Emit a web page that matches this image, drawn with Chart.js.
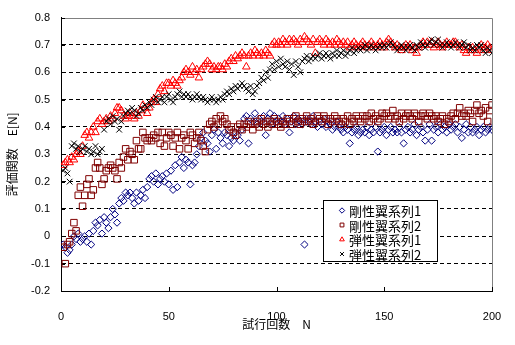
<!DOCTYPE html>
<html lang="ja">
<head>
<meta charset="utf-8">
<title>評価関数の推移</title>
<script src="https://cdn.jsdelivr.net/npm/chart.js@4.4.1/dist/chart.umd.min.js"></script>
<style>
  html, body { margin: 0; padding: 0; background: #fff; }
</style>
</head>
<body>
<canvas id="myChart" width="515" height="345"></canvas>
<script>
// evaluation value E[N] per trial, one list per wing / run
const rigidRun1 = [
  -0.03, -0.04, -0.06, -0.05, -0.03, 0.00, -0.01, 0.01, -0.02, -0.01,
  0.00, -0.02, 0.01, -0.03, 0.02, 0.05, 0.04, 0.06, 0.01, 0.07,
  0.05, 0.03, 0.07, 0.10, 0.08, 0.05, 0.12, 0.14, 0.13, 0.16,
  0.15, 0.16, 0.14, 0.12, 0.16, 0.13, 0.15, 0.17, 0.14, 0.18,
  0.21, 0.22, 0.20, 0.23, 0.19, 0.21, 0.22, 0.20, 0.23, 0.19,
  0.24, 0.17, 0.26, 0.18, 0.27, 0.29, 0.25, 0.28, 0.27, 0.19,
  0.26, 0.27, 0.30, 0.33, 0.36, 0.38, 0.35, 0.34, 0.31, 0.37,
  0.39, 0.32, 0.38, 0.36, 0.34, 0.38, 0.37, 0.33, 0.36, 0.35,
  0.38, 0.37, 0.35, 0.39, 0.43, 0.44, 0.34, 0.43, 0.42, 0.45,
  0.41, 0.43, 0.42, 0.44, 0.37, 0.43, 0.45, 0.41, 0.44, 0.42,
  0.43, 0.42, 0.44, 0.41, 0.43, 0.38, 0.42, 0.44, 0.41, 0.43,
  0.42, 0.41, -0.03, 0.43, 0.42, 0.41, 0.44, 0.42, 0.40, 0.42,
  0.41, 0.43, 0.40, 0.42, 0.41, 0.39, 0.40, 0.42, 0.40, 0.39,
  0.38, 0.40, 0.39, 0.34, 0.38, 0.39, 0.40, 0.37, 0.38, 0.39,
  0.38, 0.40, 0.37, 0.39, 0.38, 0.40, 0.31, 0.38, 0.39, 0.40,
  0.37, 0.39, 0.40, 0.38, 0.39, 0.38, 0.40, 0.38, 0.34, 0.39,
  0.40, 0.38, 0.39, 0.41, 0.37, 0.39, 0.40, 0.38, 0.35, 0.39,
  0.41, 0.35, 0.39, 0.40, 0.38, 0.41, 0.39, 0.40, 0.38, 0.41,
  0.39, 0.40, 0.41, 0.38, 0.40, 0.36, 0.39, 0.41, 0.38, 0.40,
  0.38, 0.39, 0.40, 0.37, 0.39, 0.40, 0.38, 0.39, 0.40, 0.39,
];

const rigidRun2 = [
  -0.04, -0.10, -0.03, -0.02, 0.01, 0.05, 0.02, 0.15, 0.18, 0.11,
  0.15, 0.19, 0.21, 0.15, 0.17, 0.25, 0.27, 0.25, 0.19, 0.21,
  0.24, 0.25, 0.26, 0.25, 0.24, 0.21, 0.27, 0.25, 0.29, 0.32,
  0.28, 0.31, 0.30, 0.28, 0.35, 0.32, 0.32, 0.38, 0.36, 0.35,
  0.36, 0.35, 0.37, 0.36, 0.38, 0.34, 0.38, 0.33, 0.36, 0.38,
  0.37, 0.33, 0.36, 0.38, 0.32, 0.36, 0.37, 0.35, 0.32, 0.38,
  0.37, 0.34, 0.36, 0.38, 0.35, 0.33, 0.31, 0.39, 0.41, 0.42,
  0.40, 0.43, 0.41, 0.44, 0.42, 0.43, 0.41, 0.39, 0.40, 0.38,
  0.37, 0.40, 0.41, 0.39, 0.41, 0.40, 0.42, 0.41, 0.39, 0.41,
  0.42, 0.40, 0.43, 0.41, 0.42, 0.40, 0.42, 0.41, 0.43, 0.42,
  0.41, 0.40, 0.42, 0.41, 0.43, 0.42, 0.41, 0.43, 0.44, 0.42,
  0.41, 0.43, 0.42, 0.44, 0.42, 0.43, 0.41, 0.42, 0.44, 0.43,
  0.42, 0.44, 0.43, 0.41, 0.43, 0.42, 0.44, 0.43, 0.42, 0.41,
  0.43, 0.42, 0.44, 0.41, 0.43, 0.42, 0.44, 0.43, 0.42, 0.44,
  0.43, 0.44, 0.42, 0.45, 0.43, 0.44, 0.42, 0.43, 0.45, 0.44,
  0.45, 0.43, 0.44, 0.46, 0.43, 0.44, 0.42, 0.45, 0.43, 0.44,
  0.45, 0.44, 0.43, 0.45, 0.44, 0.42, 0.44, 0.45, 0.44, 0.43,
  0.45, 0.44, 0.43, 0.44, 0.42, 0.43, 0.44, 0.41, 0.43, 0.42,
  0.44, 0.45, 0.43, 0.45, 0.47, 0.44, 0.45, 0.44, 0.46, 0.45,
  0.42, 0.46, 0.48, 0.45, 0.46, 0.44, 0.47, 0.42, 0.46, 0.48,
];

const elasticRun1 = [
  0.26, 0.27, 0.28, 0.27, 0.29, 0.28, 0.30, 0.31, 0.30, 0.33,
  0.37, 0.38, 0.36, 0.38, 0.40, 0.38, 0.42, 0.43, 0.41, 0.42,
  0.43, 0.42, 0.44, 0.43, 0.45, 0.47, 0.47, 0.46, 0.44, 0.43,
  0.44, 0.45, 0.44, 0.43, 0.45, 0.44, 0.46, 0.48, 0.47, 0.45,
  0.47, 0.49, 0.50, 0.49, 0.52, 0.54, 0.55, 0.53, 0.56, 0.56,
  0.55, 0.57, 0.56, 0.55, 0.57, 0.58, 0.60, 0.61, 0.60, 0.59,
  0.62, 0.60, 0.61, 0.58, 0.61, 0.62, 0.63, 0.64, 0.63, 0.61,
  0.62, 0.61, 0.62, 0.62, 0.61, 0.63, 0.62, 0.64, 0.65, 0.64,
  0.66, 0.65, 0.66, 0.67, 0.66, 0.62, 0.66, 0.67, 0.66, 0.68,
  0.67, 0.66, 0.67, 0.66, 0.68, 0.67, 0.66, 0.70, 0.71, 0.70,
  0.71, 0.70, 0.72, 0.71, 0.70, 0.72, 0.71, 0.72, 0.71, 0.70,
  0.72, 0.71, 0.73, 0.72, 0.71, 0.70, 0.72, 0.67, 0.71, 0.72,
  0.71, 0.70, 0.72, 0.71, 0.70, 0.71, 0.70, 0.72, 0.71, 0.70,
  0.71, 0.70, 0.71, 0.69, 0.70, 0.71, 0.70, 0.69, 0.70, 0.71,
  0.70, 0.69, 0.70, 0.71, 0.70, 0.69, 0.70, 0.71, 0.70, 0.69,
  0.71, 0.72, 0.71, 0.70, 0.69, 0.70, 0.69, 0.68, 0.69, 0.70,
  0.69, 0.70, 0.68, 0.69, 0.67, 0.69, 0.70, 0.71, 0.70, 0.71,
  0.70, 0.71, 0.69, 0.70, 0.71, 0.70, 0.69, 0.70, 0.71, 0.70,
  0.70, 0.71, 0.71, 0.70, 0.69, 0.70, 0.68, 0.67, 0.69, 0.68,
  0.69, 0.68, 0.67, 0.69, 0.70, 0.68, 0.69, 0.70, 0.69, 0.68,
];

const elasticRun2 = [
  0.24, 0.25, 0.23, 0.20, 0.33, 0.34, 0.32, 0.33, 0.31, 0.32,
  0.33, 0.31, 0.32, 0.30, 0.31, 0.33, 0.30, 0.31, 0.32, 0.39,
  0.42, 0.43, 0.41, 0.44, 0.42, 0.43, 0.39, 0.42, 0.44, 0.45,
  0.46, 0.45, 0.47, 0.46, 0.44, 0.45, 0.47, 0.46, 0.48, 0.47,
  0.49, 0.48, 0.50, 0.51, 0.49, 0.50, 0.51, 0.49, 0.51, 0.52,
  0.50, 0.49, 0.51, 0.52, 0.53, 0.51, 0.52, 0.51, 0.52, 0.51,
  0.50, 0.51, 0.52, 0.51, 0.50, 0.51, 0.50, 0.49, 0.50, 0.51,
  0.50, 0.49, 0.50, 0.51, 0.50, 0.52, 0.53, 0.52, 0.54, 0.53,
  0.55, 0.54, 0.55, 0.56, 0.55, 0.54, 0.53, 0.55, 0.52, 0.53,
  0.55, 0.56, 0.58, 0.57, 0.60, 0.58, 0.61, 0.63, 0.61, 0.64,
  0.62, 0.65, 0.63, 0.62, 0.64, 0.61, 0.63, 0.59, 0.64, 0.62,
  0.60, 0.64, 0.65, 0.66, 0.64, 0.65, 0.66, 0.65, 0.66, 0.67,
  0.65, 0.66, 0.67, 0.66, 0.65, 0.67, 0.66, 0.68, 0.66, 0.67,
  0.68, 0.66, 0.67, 0.68, 0.69, 0.67, 0.68, 0.69, 0.68, 0.69,
  0.70, 0.68, 0.69, 0.70, 0.69, 0.68, 0.69, 0.70, 0.69, 0.70,
  0.69, 0.70, 0.71, 0.70, 0.69, 0.68, 0.69, 0.70, 0.69, 0.68,
  0.69, 0.70, 0.69, 0.68, 0.70, 0.69, 0.71, 0.70, 0.69, 0.70,
  0.71, 0.72, 0.70, 0.71, 0.72, 0.70, 0.69, 0.70, 0.71, 0.70,
  0.69, 0.70, 0.71, 0.70, 0.69, 0.70, 0.71, 0.69, 0.70, 0.68,
  0.69, 0.68, 0.70, 0.69, 0.70, 0.68, 0.67, 0.69, 0.68, 0.67,
];

const seriesLabels = ["剛性翼系列1", "剛性翼系列2", "弾性翼系列1", "弾性翼系列2"];
const xTitle = "試行回数　N";
const yTitle = "評価関数　E[N]";

// trial number is 1-based
function toPoints(values) {
  return values.map((v, i) => ({ x: i + 1, y: v }));
}

function formatTick(v) {
  const r = Math.round(v * 10) / 10;
  return r === 0 ? "0" : r.toFixed(1);
}

const tickFont = { family: "'Liberation Sans', Arial, sans-serif", size: 11 };
const titleFont = { family: "'Noto Sans CJK JP', sans-serif", size: 12 };
const clear = "rgba(0,0,0,0)";

// gray top/right frame plus short inward tick marks
const frameLines = {
  id: "frameLines",
  beforeDatasetsDraw(chart) {
    const { ctx, chartArea: a, scales } = chart;
    ctx.save();
    ctx.lineWidth = 1;
    ctx.strokeStyle = "#808080";
    ctx.beginPath();
    ctx.moveTo(a.left, Math.round(a.top) + 0.5);
    ctx.lineTo(Math.round(a.right) + 0.5, Math.round(a.top) + 0.5);
    ctx.lineTo(Math.round(a.right) + 0.5, a.bottom);
    ctx.stroke();

    ctx.strokeStyle = "#000";
    ctx.beginPath();
    scales.x.ticks.forEach((t) => {
      const px = Math.round(scales.x.getPixelForValue(t.value)) + 0.5;
      ctx.moveTo(px, a.bottom);
      ctx.lineTo(px, a.bottom - 4);
    });
    scales.y.ticks.forEach((t) => {
      const py = Math.round(scales.y.getPixelForValue(t.value)) + 0.5;
      ctx.moveTo(a.left, py);
      ctx.lineTo(a.left + 4, py);
    });
    ctx.stroke();
    ctx.restore();
  },
};

// boxed legend sitting inside the plot
const boxLegend = {
  id: "boxLegend",
  afterDraw(chart) {
    const { ctx } = chart;
    const left = 323, top = 200, width = 114, height = 61;
    ctx.save();
    ctx.fillStyle = "#fff";
    ctx.fillRect(left, top, width, height);
    ctx.strokeStyle = "#000";
    ctx.lineWidth = 1;
    ctx.strokeRect(left + 0.5, top + 0.5, width, height);
    ctx.font = "13px 'Noto Sans CJK JP', sans-serif";
    ctx.textBaseline = "middle";
    chart.data.datasets.forEach((ds, i) => {
      const y = top + 10.5 + i * 14.5;
      ctx.strokeStyle = ds.pointBorderColor;
      ctx.fillStyle = clear;
      ctx.lineWidth = 1;
      Chart.helpers.drawPoint(ctx, { pointStyle: ds.pointStyle, radius: 2.7, borderWidth: 1, rotation: 0 }, left + 19, y);
      ctx.fillStyle = "#000";
      ctx.fillText(ds.label, left + 26, y + 1);
    });
    ctx.restore();
  },
};

function makeDataset(label, values, style, color, radius, order) {
  return {
    label,
    data: toPoints(values),
    pointStyle: style,
    pointRadius: radius,
    pointHoverRadius: radius,
    pointBorderColor: color,
    pointBackgroundColor: clear,
    pointBorderWidth: 1,
    borderColor: color,
    backgroundColor: clear,
    order,
  };
}

function createChart() {
  const data = {
    datasets: [
      makeDataset(seriesLabels[0], rigidRun1, "rectRot", "#000080", 3.6, 4),
      makeDataset(seriesLabels[1], rigidRun2, "rect", "#800000", 4.6, 3),
      makeDataset(seriesLabels[2], elasticRun1, "triangle", "#ff0000", 4.4, 2),
      makeDataset(seriesLabels[3], elasticRun2, "crossRot", "#000000", 4.0, 1),
    ],
  };

  const config = {
    type: "scatter",
    data,
    options: {
      responsive: false,
      animation: false,
      events: [],
      layout: { padding: { left: 0, right: 23, top: 8, bottom: 0 }, autoPadding: false },
      plugins: { legend: { display: false }, tooltip: { enabled: false } },
      scales: {
        x: {
          type: "linear",
          min: 0,
          max: 200,
          ticks: { stepSize: 50, padding: 11, maxRotation: 0, color: "#000", font: tickFont },
          grid: { display: false },
          border: { display: true, color: "#000", width: 1 },
          title: { display: true, text: xTitle, color: "#000", font: titleFont, padding: { top: 4, bottom: 13 } },
          afterFit(scale) { scale.height = 54; },
        },
        y: {
          min: -0.2,
          max: 0.8,
          ticks: { stepSize: 0.1, padding: 11, color: "#000", font: tickFont, callback: (v) => formatTick(v) },
          grid: {
            drawTicks: false,
            lineWidth: 1,
            color: (c) => {
              const v = c.tick ? c.tick.value : 0;
              return Math.abs(v - 0.8) < 1e-6 || Math.abs(v + 0.2) < 1e-6 ? clear : "#000";
            },
          },
          border: { display: true, color: "#000", width: 1, dash: [4, 3] },
          title: { display: true, text: yTitle, color: "#000", font: titleFont, padding: { top: 5, bottom: 0 } },
          afterFit(scale) { scale.width = 61; },
        },
      },
    },
    plugins: [frameLines, boxLegend],
  };

  new Chart(document.getElementById("myChart"), config);
}

document.addEventListener("DOMContentLoaded", () => {
  createChart();
});
</script>
</body>
</html>
